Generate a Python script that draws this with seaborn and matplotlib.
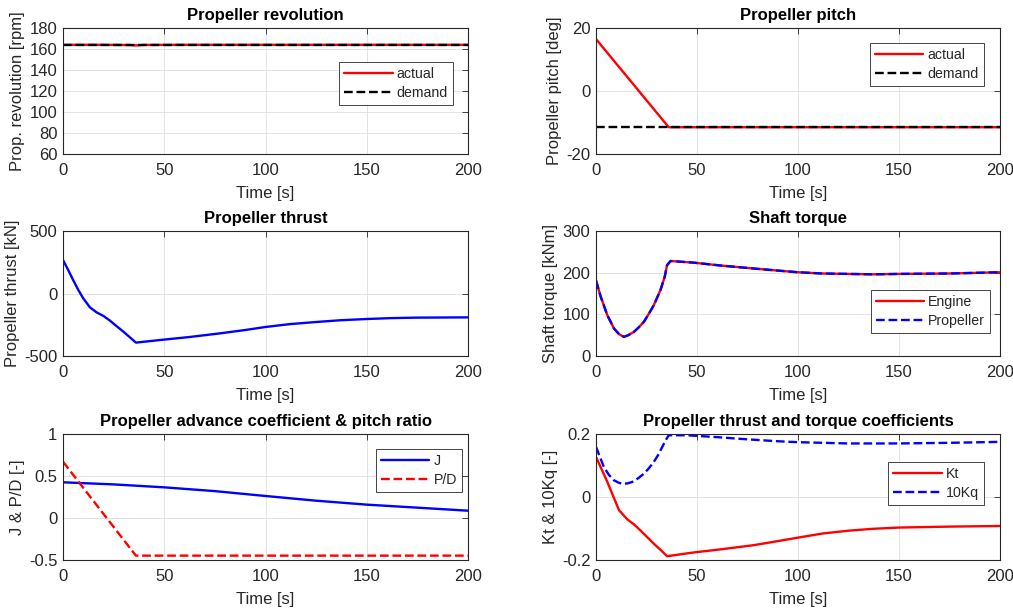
import numpy as np
import pandas as pd
import matplotlib
matplotlib.use("Agg")
import matplotlib.pyplot as plt
import seaborn as sns

# ---- data ----
t_rev = [0, 20, 33, 36, 40, 60, 100, 150, 200]
rev_actual = [164, 164, 163.8, 163.4, 163.9, 164, 164, 164, 164]
rev_demand = [164, 164, 164, 164, 164, 164, 164, 164, 164]

t_pitch = [0, 36, 50, 100, 150, 200]
pitch_actual = [16.5, -11.5, -11.5, -11.5, -11.5, -11.5]
pitch_demand = [-11.5, -11.5, -11.5, -11.5, -11.5, -11.5]

t_thrust = [0, 2.5, 5, 7.5, 10, 13.3, 16.6, 20, 23.2, 26.5, 29.8, 33, 36,
            48, 62, 77.5, 90, 100, 112, 125, 137, 150, 162, 175, 187, 200]
thrust = [268, 190, 108, 30, -39, -111, -151, -180, -217, -262, -305, -350, -393,
          -372, -349, -319, -292, -268, -245, -228, -214, -204, -197, -193, -192, -191]

t_torque = [0, 2.3, 5.6, 8.9, 11.5, 13.8, 16, 18.8, 21, 23.7, 26, 28.6, 31.9, 34,
            35.2, 36.9, 48.4, 62, 78, 90, 100, 112, 125, 137, 150, 175, 200]
torque_engine = [181, 143, 98, 66, 52, 46, 50, 58, 68, 82, 100, 122, 158, 190,
                 218, 228, 224, 217, 210, 205, 201, 198, 197, 196, 197, 198, 201]
torque_prop = [181, 143, 98, 66, 52, 46, 50, 58, 68, 82, 100, 122, 158, 190,
               218, 228, 224, 217, 210, 205, 201, 198, 197, 196, 197, 198, 201]

t_j = [0, 25, 50, 75, 100, 125, 150, 175, 200]
J = [0.425, 0.40, 0.365, 0.32, 0.262, 0.206, 0.159, 0.123, 0.087]
t_pd = [0, 36, 50, 100, 150, 200]
PD = [0.67, -0.448, -0.448, -0.448, -0.448, -0.448]

t_kt = [0, 2.8, 5.6, 8.5, 11.4, 15.5, 19, 22, 25.3, 28.6, 32, 35.2,
        48.4, 62, 78, 90, 100, 112, 125, 137, 150, 175, 200]
Kt = [0.127, 0.088, 0.048, 0.003, -0.042, -0.071, -0.088, -0.106, -0.127, -0.148, -0.168, -0.188,
      -0.176, -0.166, -0.153, -0.140, -0.129, -0.116, -0.107, -0.101, -0.097, -0.094, -0.092]
t_kq = [0, 3.9, 6.4, 8.9, 11, 13, 15.5, 18, 21, 23.7, 26, 28.6, 30.8, 32.8, 34.5, 36,
        45, 60, 75, 90, 100, 125, 150, 175, 200]
Kq10 = [0.159, 0.095, 0.070, 0.053, 0.046, 0.042, 0.043, 0.048, 0.060, 0.074, 0.090, 0.111,
        0.134, 0.159, 0.180, 0.196, 0.196, 0.190, 0.183, 0.177, 0.174, 0.170, 0.170, 0.172, 0.175]

sns.set_style("whitegrid")
plt.rcParams["font.family"] = ["Liberation Sans", "DejaVu Sans"]
plt.rcParams["axes.unicode_minus"] = False

fig = plt.figure(figsize=(10.13, 6.11), dpi=100)
W, H = 1013, 611

def make_ax(x0, y0, x1, y1):
    return fig.add_axes([x0 / W, 1 - y1 / H, (x1 - x0) / W, (y1 - y0) / H])

axes = [
    make_ax(63, 28, 468, 154), make_ax(596, 28, 1000, 154),
    make_ax(63, 231, 468, 356), make_ax(596, 231, 1000, 356),
    make_ax(63, 434, 468, 560), make_ax(596, 434, 1000, 560),
]

DASH = (4.5, 2.5)
LW = 1.7
TXT = "#262626"

def line(ax, x, y, color, label=None, dashed=False):
    kw = dict(x=x, y=y, ax=ax, color=color, linewidth=LW, label=label)
    if dashed:
        kw["dashes"] = DASH
        kw["linestyle"] = "--"
    sns.lineplot(**kw)

def style(ax, title, ylabel, ylim, yticks):
    ax.set_xlim(0, 200)
    ax.set_ylim(*ylim)
    ax.set_xticks([0, 50, 100, 150, 200])
    ax.set_yticks(yticks)
    ax.set_title(title, fontsize=12, fontweight="bold", pad=6, color="black")
    ax.set_xlabel("Time [s]", fontsize=12, color=TXT, labelpad=6)
    ax.set_ylabel(ylabel, fontsize=12, color=TXT, labelpad=3)
    ax.tick_params(direction="in", length=4, width=0.6, labelsize=12,
                   colors=TXT, top=True, right=True, pad=4)
    ax.tick_params(axis="x", pad=6.5)
    ax.grid(True, color="#dedede", linewidth=0.6)
    for s in ax.spines.values():
        s.set_color(TXT)
        s.set_linewidth(0.8)

def legend(ax, anchor):
    leg = ax.legend(loc="upper right", bbox_to_anchor=anchor, fontsize=10.2,
                    handlelength=3.4, handletextpad=0.3, borderpad=0.35,
                    labelspacing=0.35, fancybox=False, framealpha=1,
                    borderaxespad=0)
    leg.get_frame().set_edgecolor(TXT)
    leg.get_frame().set_linewidth(0.6)
    for txt in leg.get_texts():
        txt.set_color(TXT)

ax = axes[0]
line(ax, t_rev, rev_actual, "red", "actual")
line(ax, t_rev, rev_demand, "black", "demand", dashed=True)
style(ax, "Propeller revolution", "Prop. revolution [rpm]", (60, 180), range(60, 181, 20))
legend(ax, (0.963, 0.73))

ax = axes[1]
line(ax, t_pitch, pitch_actual, "red", "actual")
line(ax, t_pitch, pitch_demand, "black", "demand", dashed=True)
style(ax, "Propeller pitch", "Propeller pitch [deg]", (-20, 20), [-20, 0, 20])
legend(ax, (0.96, 0.88))

ax = axes[2]
line(ax, t_thrust, thrust, "blue")
style(ax, "Propeller thrust", "Propeller thrust [kN]", (-500, 500), [-500, 0, 500])

ax = axes[3]
line(ax, t_torque, torque_engine, "red", "Engine")
line(ax, t_torque, torque_prop, "blue", "Propeller", dashed=True)
style(ax, "Shaft torque", "Shaft torque [kNm]", (0, 300), [0, 100, 200, 300])
legend(ax, (0.975, 0.53))

ax = axes[4]
line(ax, t_j, J, "blue", "J")
line(ax, t_pd, PD, "red", "P/D", dashed=True)
style(ax, "Propeller advance coefficient & pitch ratio", "J & P/D [-]", (-0.5, 1), [-0.5, 0, 0.5, 1])
ax.set_yticklabels(["-0.5", "0", "0.5", "1"])
legend(ax, (0.985, 0.88))

ax = axes[5]
line(ax, t_kt, Kt, "red", "Kt")
line(ax, t_kq, Kq10, "blue", "10Kq", dashed=True)
style(ax, "Propeller thrust and torque coefficients", "Kt & 10Kq [-]", (-0.2, 0.2), [-0.2, 0, 0.2])
ax.set_yticklabels(["-0.2", "0", "0.2"])
legend(ax, (0.96, 0.78))

fig.savefig("out.png", dpi=100)
